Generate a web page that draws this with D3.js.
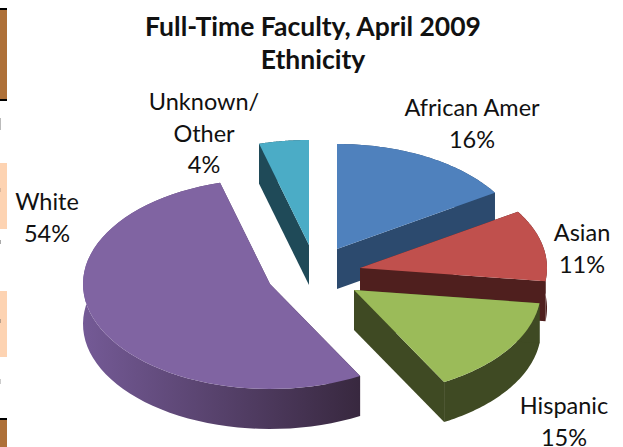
<!DOCTYPE html>
<html>
<head>
<meta charset="utf-8">
<script src="https://cdn.jsdelivr.net/npm/d3@7"></script>
<style>
  body { margin: 0; background: #fff; }
  svg { display: block; }
  text { font-family: Lato, sans-serif; fill: #111; }
</style>
</head>
<body>
<div id="chart"></div>
<script>
// values in pie order, clockwise from 12 o'clock (labels show them rounded)
var categories = ['African Amer', 'Asian', 'Hispanic', 'White', 'Unknown/Other'];
var values = [16, 11, 15, 53.7, 4.3];
var titleLines = ['Full-Time Faculty, April 2009', 'Ethnicity'];
var labelLines = [['African Amer', '16%'], ['Asian', '11%'], ['Hispanic', '15%'], ['White', '54%'], ['Unknown/', 'Other', '4%']];

var width = 623, height = 447;
var radius = 187, radiusY = 105, depth = 40;

// each slice is pulled out of the pie on its own
var centers = [[337, 249], [360, 268], [354, 290], [270, 284], [309, 245]];
var topColors = ['#4f81bd', '#c0504d', '#9bbb59', '#8064a2', '#4bacc6'];
var sideColors = ['#2c4a6e', '#4f1f1e', '#3f4a23', 'url(#whiteSide)', '#1f4a58'];
var labelPos = [[472, 116], [582, 241], [564, 414], [47, 210], [204, 110]];

var svg = d3.select('#chart').append('svg')
  .attr('width', width)
  .attr('height', height);

// cropped page furniture on the left edge
var strips = [
  {y: 8, w: 7, h: 93, fill: '#ae7038'},
  {y: 8, w: 7, h: 2, fill: '#000'},
  {y: 99, w: 7, h: 2, fill: '#000'},
  {y: 163, w: 7, h: 66, fill: '#fdd3b2'},
  {y: 291, w: 7, h: 66, fill: '#fdd3b2'},
  {y: 418, w: 7, h: 29, fill: '#ae7038'},
  {y: 418, w: 7, h: 2, fill: '#000'},
  {y: 118, w: 1, h: 12, fill: '#bbb'},
  {y: 188, w: 1, h: 4, fill: '#d9b79c'},
  {y: 240, w: 1, h: 4, fill: '#aaa'},
  {y: 319, w: 1, h: 4, fill: '#b9a08c'},
  {y: 379, w: 1, h: 5, fill: '#ccc'}
];
svg.selectAll('rect.strip')
  .data(strips)
  .enter()
  .append('rect')
    .attr('class', 'strip')
    .attr('x', 0)
    .attr('y', function(d) { return d.y; })
    .attr('width', function(d) { return d.w; })
    .attr('height', function(d) { return d.h; })
    .attr('fill', function(d) { return d.fill; });

var grad = svg.append('defs').append('linearGradient')
  .attr('id', 'whiteSide')
  .attr('gradientUnits', 'userSpaceOnUse')
  .attr('x1', 83).attr('x2', 360)
  .attr('y1', 0).attr('y2', 0);
grad.append('stop').attr('offset', 0).attr('stop-color', '#745a96');
grad.append('stop').attr('offset', 1).attr('stop-color', '#38283f');

var pie = d3.pie().sort(null);
var arcs = pie(values);
var line = d3.line();

// pie angle -> point on the tilted ellipse
function project(c, a, dz) {
  return [c[0] + radius * Math.sin(a), c[1] - radiusY * Math.cos(a) + dz];
}

function arcPoints(c, d, dz) {
  var n = 60;
  return d3.range(n + 1).map(function(i) {
    return project(c, d.startAngle + (d.endAngle - d.startAngle) * i / n, dz);
  });
}

var slices = svg.selectAll('g.slice')
  .data(arcs)
  .enter()
  .append('g')
    .attr('class', 'slice');

slices.each(function(d, i) {
  var g = d3.select(this);
  var c = centers[i];
  var apexTop = [c[0], c[1]];
  var apexBottom = [c[0], c[1] + depth];
  var outerTop = arcPoints(c, d, 0);
  var outerBottom = arcPoints(c, d, depth);

  // outer wall and the two cut faces, top face goes over them
  var faces = [
    outerTop.concat(outerBottom.slice().reverse()),
    [apexTop, outerTop[0], outerBottom[0], apexBottom],
    [apexTop, outerTop[outerTop.length - 1], outerBottom[outerBottom.length - 1], apexBottom]
  ];
  g.selectAll('path.side')
    .data(faces)
    .enter()
    .append('path')
      .attr('class', 'side')
      .attr('d', function(f) { return line(f) + 'Z'; })
      .attr('fill', sideColors[i]);

  g.append('path')
    .attr('d', line([apexTop].concat(outerTop)) + 'Z')
    .attr('fill', topColors[i]);
});

// labels
svg.selectAll('g.label')
  .data(labelLines)
  .enter()
  .append('g')
    .attr('class', 'label')
    .attr('transform', function(d, i) { return 'translate(' + labelPos[i][0] + ',' + labelPos[i][1] + ')'; })
  .selectAll('text')
    .data(function(d) { return d; })
    .enter()
    .append('text')
      .attr('y', function(d, i) { return i * 31.5; })
      .attr('text-anchor', 'middle')
      .attr('font-size', 23.5)
      .text(function(d) { return d; });

// title
svg.selectAll('text.title')
  .data(titleLines)
  .enter()
  .append('text')
    .attr('class', 'title')
    .attr('x', 313)
    .attr('y', function(d, i) { return 35.5 + i * 33; })
    .attr('text-anchor', 'middle')
    .attr('font-size', 26.5)
    .attr('font-weight', 700)
    .text(function(d) { return d; });
</script>
</body>
</html>
